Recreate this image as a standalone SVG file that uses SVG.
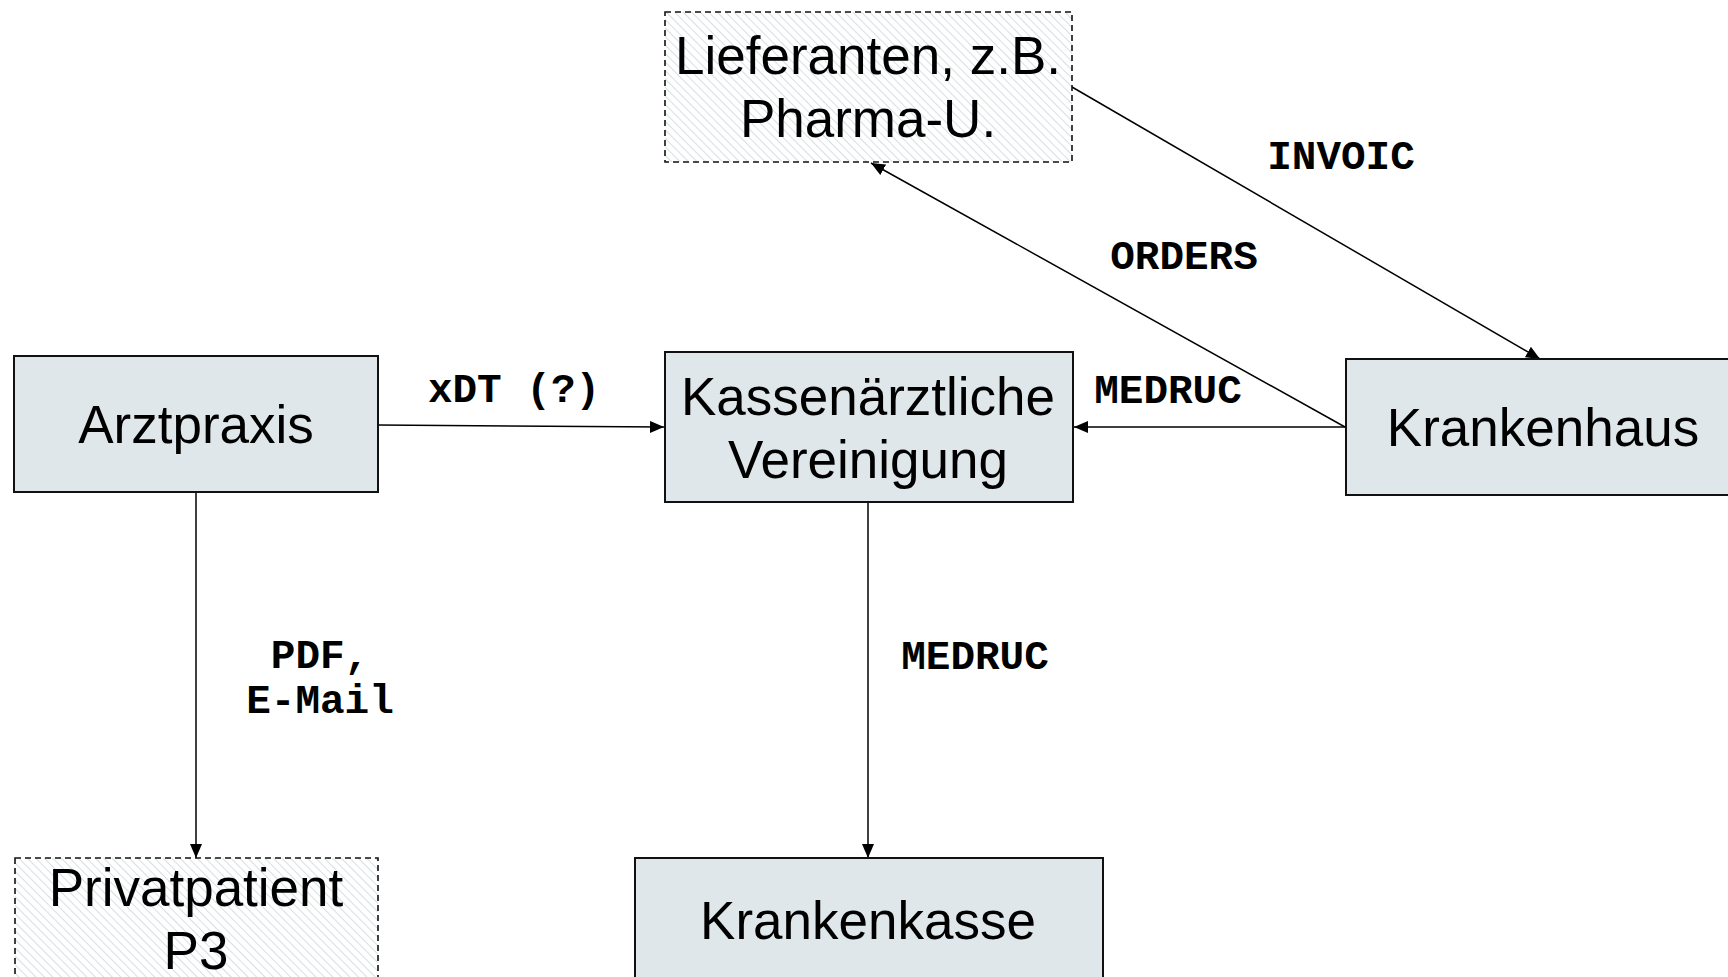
<svg xmlns="http://www.w3.org/2000/svg" width="1728" height="977" viewBox="0 0 1728 977">
<style>
.box{fill:#e0e7ea;stroke:#111;stroke-width:2}
.dbox{fill:url(#hatch);stroke:#111;stroke-width:1.6;stroke-dasharray:6 4}
.nt{font-family:"Liberation Sans",Arial,sans-serif;font-size:53px;fill:#000;text-anchor:middle}
.lb{font-family:"Liberation Mono","Courier New",monospace;font-size:41px;font-weight:bold;fill:#000;text-anchor:middle}
.c{stroke:#000;stroke-width:1.5;fill:none;marker-end:url(#ah)}
</style>
<defs>
<pattern id="hatch" width="6" height="6" patternUnits="userSpaceOnUse" patternTransform="rotate(-45)">
<rect width="6" height="6" fill="#fff"/>
<line x1="0" y1="0" x2="0" y2="6" stroke="#d6dfe3" stroke-width="2"/>
</pattern>
<marker id="ah" markerWidth="14" markerHeight="12" refX="14" refY="6" orient="auto" markerUnits="userSpaceOnUse">
<path d="M0,0 L14,6 L0,12 Z" fill="#000"/>
</marker>
</defs>
<g id="connectors">
<line class="c" x1="378" y1="425" x2="664" y2="427"/>
<line class="c" x1="1345" y1="427" x2="1074" y2="427"/>
<line class="c" x1="1345" y1="427" x2="871" y2="163"/>
<line class="c" x1="1072" y1="87" x2="1540" y2="359"/>
<line class="c" x1="868" y1="502" x2="868" y2="858"/>
<line class="c" x1="196" y1="492" x2="196" y2="858"/>
<text class="lb" x="514" y="402">xDT (?)</text>
<text class="lb" x="1168" y="403">MEDRUC</text>
<text class="lb" x="1184" y="269">ORDERS</text>
<text class="lb" x="1341" y="169">INVOIC</text>
<text class="lb" x="320" y="668">PDF,</text>
<text class="lb" x="320" y="713">E-Mail</text>
<text class="lb" x="975" y="669">MEDRUC</text>
</g>
<g id="lieferanten">
<rect class="dbox" x="665" y="12" width="407" height="150"/>
<text class="nt" x="868" y="74">Lieferanten, z.B.</text>
<text class="nt" x="868" y="137">Pharma-U.</text>
</g>
<g id="arztpraxis">
<rect class="box" x="14" y="356" width="364" height="136"/>
<text class="nt" x="196" y="443">Arztpraxis</text>
</g>
<g id="kv">
<rect class="box" x="665" y="352" width="408" height="150"/>
<text class="nt" x="868" y="415">Kassenärztliche</text>
<text class="nt" x="868" y="478">Vereinigung</text>
</g>
<g id="krankenhaus">
<rect class="box" x="1346" y="359" width="400" height="136"/>
<text class="nt" x="1543" y="446">Krankenhaus</text>
</g>
<g id="privatpatient">
<rect class="dbox" x="15" y="858" width="363" height="140"/>
<text class="nt" x="196" y="906">Privatpatient</text>
<text class="nt" x="196" y="969">P3</text>
</g>
<g id="krankenkasse">
<rect class="box" x="635" y="858" width="468" height="140"/>
<text class="nt" x="868" y="939">Krankenkasse</text>
</g>
</svg>
